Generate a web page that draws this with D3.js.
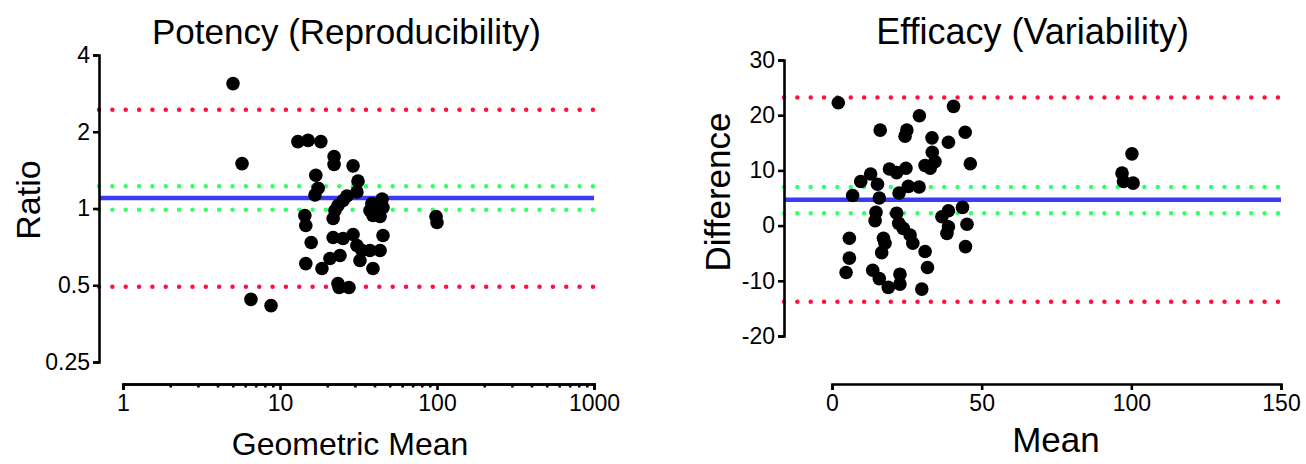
<!DOCTYPE html>
<html>

<head>
    <meta charset="utf-8">
    <title>Bland-Altman</title>
    <style>
        body { margin: 0; background: #fff; }
        text { font-family: "Liberation Sans", Arial, sans-serif; fill: #000; }
    </style>
</head>

<body>
    <script type='text/javascript' src='https://d3js.org/d3.v7.min.js'></script>
    <script>
    // Potency: ratio vs geometric mean
    var potencyMean = [5.02, 5.73, 13.0, 15.1, 18.2, 22.1, 22.1, 29.2, 16.9, 17.5, 16.7, 31.4, 30.9, 26.7, 25.2,
        23.4, 22.4, 21.8, 44.7, 38.5, 37.4, 42.1, 45.3, 39.1, 43.4, 14.4, 14.6, 15.8, 14.6, 18.5, 21.8, 25.2,
        29.2, 45.3, 30.9, 33.3, 37.4, 43.4, 20.8, 24.1, 32.3, 39.1, 23.4, 23.8, 27.5, 6.53, 8.77, 98.6, 100];
    var potencyRatio = [3.09, 1.50, 1.83, 1.85, 1.83, 1.60, 1.49, 1.47, 1.35, 1.20, 1.13, 1.28, 1.16, 1.12, 1.075,
        1.027, 0.982, 0.914, 1.09, 1.046, 0.982, 0.956, 1.009, 0.939, 0.930, 0.939, 0.858, 0.736, 0.608, 0.582,
        0.770, 0.763, 0.791, 0.784, 0.716, 0.684, 0.684, 0.684, 0.637, 0.654, 0.625, 0.582, 0.508, 0.490, 0.490,
        0.440, 0.416, 0.930, 0.881];
    var potencyBias = 1.10;
    var potencyLimits = [0.493, 2.44];
    var potencyCI = [0.988, 1.223];
    var potencyYTicks = [0.25, 0.5, 1, 2, 4];
    var potencyXTicks = [1, 10, 100, 1000];

    // Efficacy: difference vs mean
    var efficacyMean = [2.1, 40.6, 29.2, 16.1, 25.0, 24.4, 44.5, 33.4, 38.9, 33.5, 34.4, 31.1, 32.8, 46.2, 19.2,
        21.6, 24.7, 12.9, 9.6, 15.2, 25.5, 29.1, 6.9, 15.8, 22.4, 14.7, 14.4, 21.6, 22.3, 23.8, 26.1, 27.0, 38.9,
        36.7, 38.9, 38.4, 43.6, 45.1, 44.6, 5.8, 5.8, 4.7, 17.2, 17.7, 16.6, 31.1, 31.9, 13.6, 15.8, 18.8, 22.7,
        22.7, 30.0, 100.2, 96.9, 97.4, 100.6];
    var efficacyDiff = [22.25, 21.6, 19.9, 17.3, 17.3, 16.2, 16.9, 15.9, 15.1, 13.3, 11.6, 10.9, 10.4, 11.2, 10.25,
        9.6, 10.4, 9.35, 8.0, 7.5, 7.1, 7.0, 5.45, 5.0, 5.9, 2.4, 0.9, 2.25, 0.4, -0.5, -1.7, -3.2, 2.7, 1.6, -0.2,
        -1.4, 3.3, 0.25, -3.8, -2.3, -5.9, -8.5, -2.3, -3.2, -4.9, -4.7, -7.6, -8.1, -9.6, -11.2, -8.8, -10.6,
        -11.5, 13.0, 9.5, 8.0, 7.7];
    var efficacyBias = 4.67;
    var efficacyLimits = [-13.8, 23.2];
    var efficacyCI = [2.25, 6.98];
    var efficacyYTicks = [-20, -10, 0, 10, 20, 30];
    var efficacyXTicks = [0, 50, 100, 150];

    const width = 1306;
    const height = 464;

    const svg = d3.select("body")
        .append("svg")
        .attr("width", width)
        .attr("height", height);

    const red = "#ff1040";
    const green = "#33ff66";
    const blue = "#3b3bf5";

    function drawPanel(opt) {
        var g = svg.append("g");
        var x = opt.x, y = opt.y;
        var left = opt.axisX;
        var right = x.range()[1];

        // horizontal reference lines
        function hline(v, color, dotted) {
            var l = g.append("line")
                .attr("x1", left).attr("x2", right)
                .attr("y1", y(v)).attr("y2", y(v))
                .attr("stroke", color)
                .attr("stroke-width", 4.5);
            if (dotted) {
                l.attr("stroke-linecap", "round")
                    .attr("stroke-dasharray", "0 13.35");
            }
        }
        opt.limits.forEach(function(v) { hline(v, red, true); });
        opt.ci.forEach(function(v) { hline(v, green, true); });
        hline(opt.bias, blue, false);

        // points
        g.selectAll("circle")
            .data(opt.xs.map(function(d, i) { return [d, opt.ys[i]]; }))
            .enter()
            .append("circle")
            .attr("cx", function(d) { return x(d[0]); })
            .attr("cy", function(d) { return y(d[1]); })
            .attr("r", 6.8)
            .attr("fill", "#000");

        // y axis
        g.append("g")
            .attr("transform", "translate(" + left + ",0)")
            .call(d3.axisLeft(y).tickValues(opt.yTicks).tickFormat(function(d) { return d; })
                .tickSizeOuter(0).tickSize(6).tickPadding(3));

        // x axis
        if (opt.minor) {
            g.append("g")
                .attr("transform", "translate(0," + opt.xAxisY + ")")
                .call(d3.axisBottom(x).tickValues(opt.minor).tickFormat("").tickSizeOuter(0).tickSize(3.5));
        }
        g.append("g")
            .attr("transform", "translate(0," + opt.xAxisY + ")")
            .call(d3.axisBottom(x).tickValues(opt.xTicks).tickFormat(function(d) { return d; })
                .tickSizeOuter(0).tickSize(6).tickPadding(5));

        g.selectAll(".domain, .tick line")
            .attr("stroke", "#000")
            .attr("stroke-width", 2.6);
        g.selectAll(".tick text")
            .attr("font-size", 23)
            .attr("fill", "#000")
            .style("font-family", "'Liberation Sans', Arial, sans-serif");

        // titles
        g.append("text")
            .attr("x", (left + right) / 2)
            .attr("y", 44)
            .attr("text-anchor", "middle")
            .attr("font-size", opt.titleSize)
            .text(opt.title);
        g.append("text")
            .attr("x", opt.xLabelPos[0])
            .attr("y", opt.xLabelPos[1])
            .attr("text-anchor", "middle")
            .attr("font-size", opt.xLabelSize)
            .text(opt.xLabel);
        g.append("text")
            .attr("transform", "translate(" + opt.yLabelPos[0] + "," + opt.yLabelPos[1] + ") rotate(-90)")
            .attr("text-anchor", "middle")
            .attr("font-size", opt.yLabelSize)
            .text(opt.yLabel);
    }

    // minor ticks for log axis
    var minorTicks = [];
    [1, 10, 100].forEach(function(dec) {
        for (var k = 2; k <= 9; k++) minorTicks.push(dec * k);
    });

    drawPanel({
        x: d3.scaleLog().domain([1, 1000]).range([123, 594]),
        y: d3.scaleLog().base(2).domain([0.25, 4]).range([362, 55]),
        axisX: 99,
        xAxisY: 384,
        xs: potencyMean,
        ys: potencyRatio,
        bias: potencyBias,
        limits: potencyLimits,
        ci: potencyCI,
        yTicks: potencyYTicks,
        xTicks: potencyXTicks,
        minor: minorTicks,
        title: "Potency (Reproducibility)",
        titleSize: 35,
        xLabel: "Geometric Mean",
        xLabelSize: 32,
        xLabelPos: [350, 455],
        yLabel: "Ratio",
        yLabelSize: 34,
        yLabelPos: [40, 200]
    });

    drawPanel({
        x: d3.scaleLinear().domain([0, 150]).range([832, 1281]),
        y: d3.scaleLinear().domain([-20, 30]).range([336, 60]),
        axisX: 784,
        xAxisY: 384,
        xs: efficacyMean,
        ys: efficacyDiff,
        bias: efficacyBias,
        limits: efficacyLimits,
        ci: efficacyCI,
        yTicks: efficacyYTicks,
        xTicks: efficacyXTicks,
        minor: null,
        title: "Efficacy (Variability)",
        titleSize: 36,
        xLabel: "Mean",
        xLabelSize: 35,
        xLabelPos: [1056, 452],
        yLabel: "Difference",
        yLabelSize: 35,
        yLabelPos: [730, 192]
    });
    </script>
</body>

</html>
